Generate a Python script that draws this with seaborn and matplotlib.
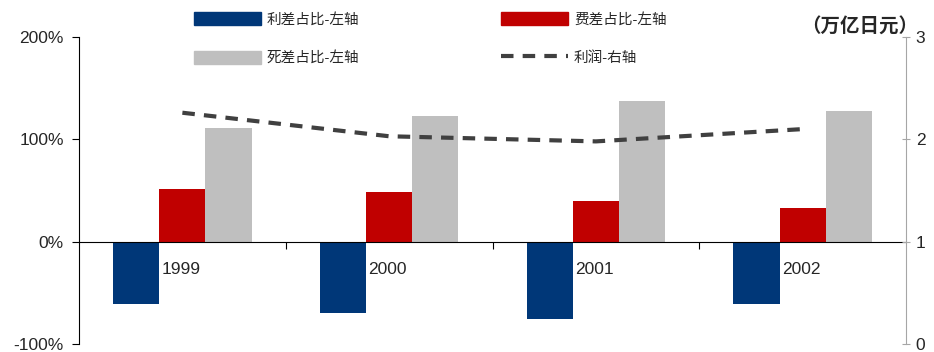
import numpy as np
import pandas as pd
import matplotlib
matplotlib.use("Agg")
import matplotlib.pyplot as plt
from matplotlib.ticker import FuncFormatter
import seaborn as sns

years = ["1999", "2000", "2001", "2002"]
series_names = ["利差占比-左轴", "费差占比-左轴", "死差占比-左轴"]
interest_share = [-0.61, -0.70, -0.76, -0.61]
expense_share = [0.51, 0.49, 0.40, 0.33]
mortality_share = [1.11, 1.23, 1.37, 1.28]
profit = [2.26, 2.03, 1.98, 2.10]
profit_name = "利润-右轴"
colors = ["#003778", "#C00000", "#BFBFBF"]

sns.set_style("white")
plt.rcParams["font.family"] = ["Liberation Sans", "Noto Sans CJK SC"]

df = pd.DataFrame({
    "year": years * 3,
    "series": [series_names[0]] * 4 + [series_names[1]] * 4 + [series_names[2]] * 4,
    "value": interest_share + expense_share + mortality_share,
})

fig = plt.figure(figsize=(9.34, 3.52), dpi=100)
ax = fig.add_axes([79 / 934, 8 / 352, (906 - 79) / 934, (344 - 37) / 352])

sns.barplot(data=df, x="year", y="value", hue="series", palette=colors,
            width=0.67, saturation=1, linewidth=0, ax=ax, legend=False)
ax.set_xlim(-0.5, 3.5)
ax.set_ylim(-1, 2)
ax.set_yticks([-1, 0, 1, 2])
ax.yaxis.set_major_formatter(FuncFormatter(lambda v, p: f"{v * 100:.0f}%"))
ax.set_xlabel("")
ax.set_ylabel("")
ax.spines["top"].set_visible(False)
ax.spines["right"].set_visible(False)
ax.spines["bottom"].set_position(("data", 0))
ax.spines["bottom"].set_color("black")
ax.spines["left"].set_color("black")
ax.set_xticks([0.5, 1.5, 2.5])
ax.set_xticklabels([])
ax.tick_params(axis="x", direction="out", length=5, color="black", bottom=True)
ax.tick_params(axis="y", direction="out", length=5, color="black", left=True,
               labelsize=12.5, pad=6)
for i, y in enumerate(years):
    ax.text(i - 0.1, -0.27, y, ha="left", va="center", fontsize=12.5)

ax2 = ax.twinx()
sns.lineplot(x=np.arange(len(years)), y=profit, ax=ax2, color="#404040",
             lw=3, linestyle=(0, (3, 2.2)))
ax2.set_ylim(0, 3)
ax2.set_yticks([0, 1, 2, 3])
for s in ["top", "left", "bottom"]:
    ax2.spines[s].set_visible(False)
ax2.spines["right"].set_color("#A6A6A6")
ax2.tick_params(axis="y", direction="inout", length=6, color="#A6A6A6", right=True,
                labelsize=12.5, pad=4)

handles = [plt.Rectangle((0, 0), 1, 1, color=c) for c in colors]
line_h = plt.Line2D([], [], color="#404040", lw=3, linestyle=(0, (3, 2.2)))
fig.legend([handles[0], handles[2], handles[1], line_h],
           [series_names[0], series_names[2], series_names[1], profit_name],
           ncol=2, loc="upper left", bbox_to_anchor=(194 / 934, 1 - 12 / 352),
           frameon=False, fontsize=10.5, handlelength=4.6, handleheight=1.0,
           handletextpad=0.4, columnspacing=9.7, labelspacing=1.65,
           borderpad=0, borderaxespad=0)
fig.text(918 / 934, 1 - 27 / 352, "（万亿日元）", ha="right", va="center",
         fontsize=14, fontweight="bold", family=["Noto Sans CJK SC"])

fig.savefig("out.png", dpi=100)
